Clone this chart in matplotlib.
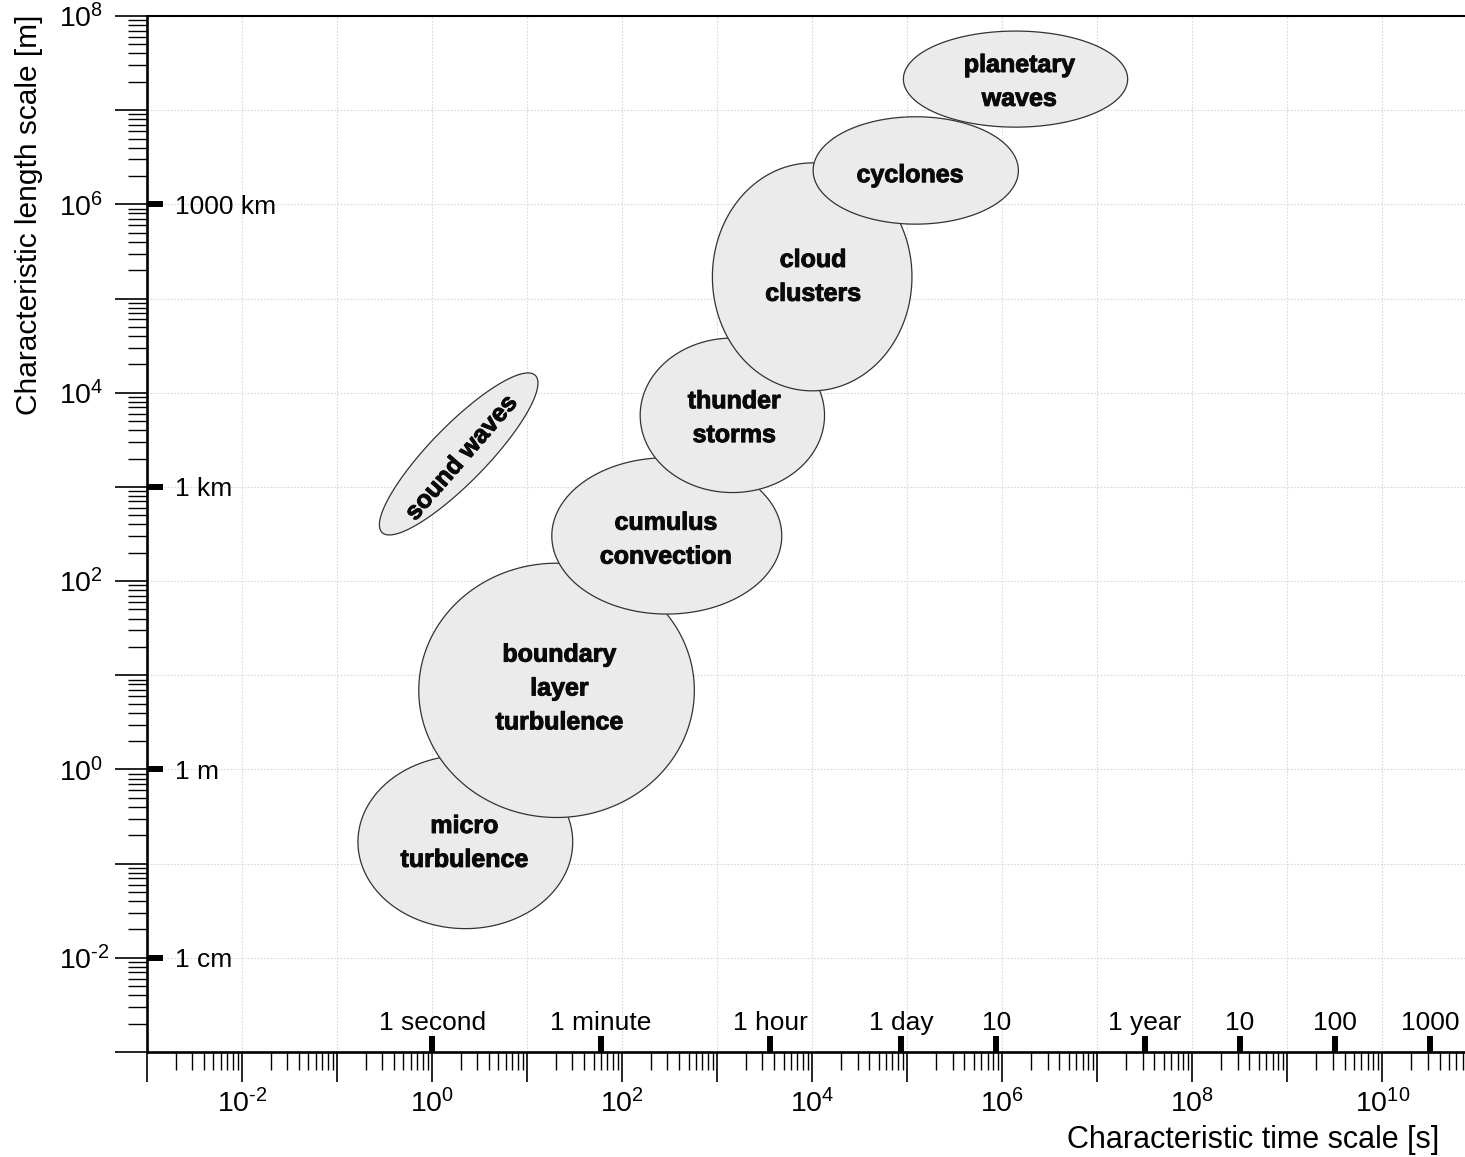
import numpy as np
import matplotlib
matplotlib.use("Agg")
import matplotlib.pyplot as plt
from matplotlib import font_manager
import matplotlib.patheffects as pe
from matplotlib.ticker import FixedLocator, NullFormatter

plt.rcParams['font.family'] = ['Liberation Sans', 'DejaVu Sans']
plt.rcParams['mathtext.fontset'] = 'custom'
plt.rcParams['mathtext.rm'] = 'Liberation Sans'
plt.rcParams['mathtext.it'] = 'Liberation Sans:italic'
plt.rcParams['mathtext.bf'] = 'Liberation Sans:bold'

# Atmospheric phenomena: ellipse centres (log10 s, log10 m) and half-extents in decades
phenomena = ["micro\nturbulence", "boundary\nlayer\nturbulence", "cumulus\nconvection",
             "thunder\nstorms", "cloud\nclusters", "cyclones", "planetary\nwaves",
             "sound waves"]
center_log_time = [0.35, 1.31, 2.47, 3.16, 4.00, 5.09, 6.14, 0.28]
center_log_length = [-0.77, 0.84, 2.48, 3.76, 5.23, 6.36, 7.33, 3.35]
half_width_decades = [1.13, 1.45, 1.21, 0.97, 1.05, 1.08, 1.18, 1.16]
half_height_decades = [0.92, 1.35, 0.83, 0.82, 1.21, 0.57, 0.51, 0.30]
tilt_deg = [0, 0, 0, 0, 0, 0, 0, 46]
label_log_time = [0.34, 1.34, 2.46, 3.18, 4.01, 5.03, 6.18, 0.31]
label_log_length = [-0.78, 0.86, 2.44, 3.73, 5.23, 6.31, 7.30, 3.31]
label_rotation = [0, 0, 0, 0, 0, 0, 0, 49]

# Reference time and length markers
time_marks_s = [1, 60, 3600, 86400, 864000, 3.156e7, 3.156e8, 3.156e9, 3.156e10]
time_mark_labels = ["1 second", "1 minute", "1 hour", "1 day", "10",
                    "1 year", "10", "100", "1000"]
length_marks_m = [1e-2, 1, 1e3, 1e6]
length_mark_labels = ["1 cm", "1 m", "1 km", "1000 km"]

x_decades = list(range(-3, 11))
y_decades = list(range(-3, 9))


def decade_label(k):
    if k % 2 != 0:
        return ""
    exp = str(k).replace('-', r'\text{-}')
    return r'$\mathregular{10^{%s}}$' % exp


def pick_family(candidates):
    for fam in candidates:
        try:
            font_manager.findfont(font_manager.FontProperties(family=fam, weight='bold'),
                                  fallback_to_default=False)
            return fam
        except ValueError:
            continue
    return 'DejaVu Sans'


bold_family = pick_family(['Liberation Sans Narrow', 'Liberation Sans'])
bold_size = 20 if bold_family == 'Liberation Sans Narrow' else 18

W, H = 1465, 1157
fig = plt.figure(figsize=(W / 100, H / 100), dpi=100)
ax_left, ax_bottom, ax_top = 147, 1052, 16
ax = fig.add_axes([ax_left / W, (H - ax_bottom) / H, (W - ax_left) / W,
                   (ax_bottom - ax_top) / H])
ax.set_xscale('log')
ax.set_yscale('log')

# Decade ticks, labelled every second decade
ax.set_xticks([10.0 ** k for k in x_decades], labels=[decade_label(k) for k in x_decades],
              fontsize=20.5)
ax.set_yticks([10.0 ** k for k in y_decades], labels=[decade_label(k) for k in y_decades],
              fontsize=20.5, ha='left')
x_minor = [m * 10.0 ** k for k in x_decades for m in range(2, 10)]
y_minor = [m * 10.0 ** k for k in y_decades[:-1] for m in range(2, 10)]
ax.xaxis.set_minor_locator(FixedLocator(x_minor))
ax.yaxis.set_minor_locator(FixedLocator(y_minor))
ax.xaxis.set_minor_formatter(NullFormatter())
ax.yaxis.set_minor_formatter(NullFormatter())
ax.set_xlim(1e-3, 10 ** 10.87)
ax.set_ylim(1e-3, 1e8)

ax.tick_params(axis='x', which='major', direction='out', length=21.5, width=1.2, pad=5)
ax.tick_params(axis='x', which='minor', direction='out', length=13, width=1.0)
ax.tick_params(axis='y', which='major', direction='out', length=23, width=1.2, pad=40.5)
ax.tick_params(axis='y', which='minor', direction='out', length=13.7, width=1.0)

for side in ('left', 'bottom'):
    ax.spines[side].set_linewidth(1.9)
ax.spines['top'].set_linewidth(1.5)
ax.spines['right'].set_visible(False)

ax.set_axisbelow(True)
ax.grid(True, which='major', color='#d8d8d8', linewidth=0.8,
        linestyle=(0, (1.5, 1.5)))

# Ellipses in log-log space
t = np.linspace(0, 2 * np.pi, 400)
heavy = [pe.withStroke(linewidth=0.7, foreground='#0a0a0a')]
for i, name in enumerate(phenomena):
    th = np.deg2rad(tilt_deg[i])
    u = half_width_decades[i] * np.cos(t)
    v = half_height_decades[i] * np.sin(t)
    lx = center_log_time[i] + u * np.cos(th) - v * np.sin(th)
    ly = center_log_length[i] + u * np.sin(th) + v * np.cos(th)
    ax.fill(10 ** lx, 10 ** ly, facecolor='#ebebeb', edgecolor='#333333',
            linewidth=0.9, zorder=3 + i)
    ax.text(10 ** label_log_time[i], 10 ** label_log_length[i], name,
            ha='center', va='center', rotation=label_rotation[i],
            rotation_mode='anchor', fontsize=bold_size, fontweight='bold',
            family=[bold_family, 'DejaVu Sans'],
            linespacing=1.52, color='#0a0a0a', zorder=30, path_effects=heavy)

# Time markers above the x axis
xtrans = ax.get_xaxis_transform()
for ts, lab in zip(time_marks_s, time_mark_labels):
    ax.plot([ts, ts], [0, 16 / 1036], transform=xtrans, color='black',
            linewidth=4.3, solid_capstyle='butt', clip_on=False, zorder=40)
    ax.annotate(lab, xy=(ts, 0), xycoords=xtrans, xytext=(0, 15.5),
                textcoords='offset points', ha='center', va='baseline',
                fontsize=19, zorder=40)

# Length markers right of the y axis
ytrans = ax.get_yaxis_transform()
for lm, lab in zip(length_marks_m, length_mark_labels):
    ax.plot([0, 16 / 1318], [lm, lm], transform=ytrans, color='black',
            linewidth=4.3, solid_capstyle='butt', clip_on=False, zorder=40)
    ax.annotate(lab, xy=(0, lm), xycoords=ytrans, xytext=(20.5, 0),
                textcoords='offset points', ha='left', va='center_baseline',
                fontsize=19, zorder=40)

fig.text(29 / W, 1 - 215 / H, "Characteristic length scale [m]", rotation=90,
         ha='center', va='center', fontsize=21.5)
fig.text(1253 / W, 1 - 1148 / H, "Characteristic time scale [s]",
         ha='center', va='baseline', fontsize=22)

fig.savefig("out.png", dpi=100, facecolor='white')
